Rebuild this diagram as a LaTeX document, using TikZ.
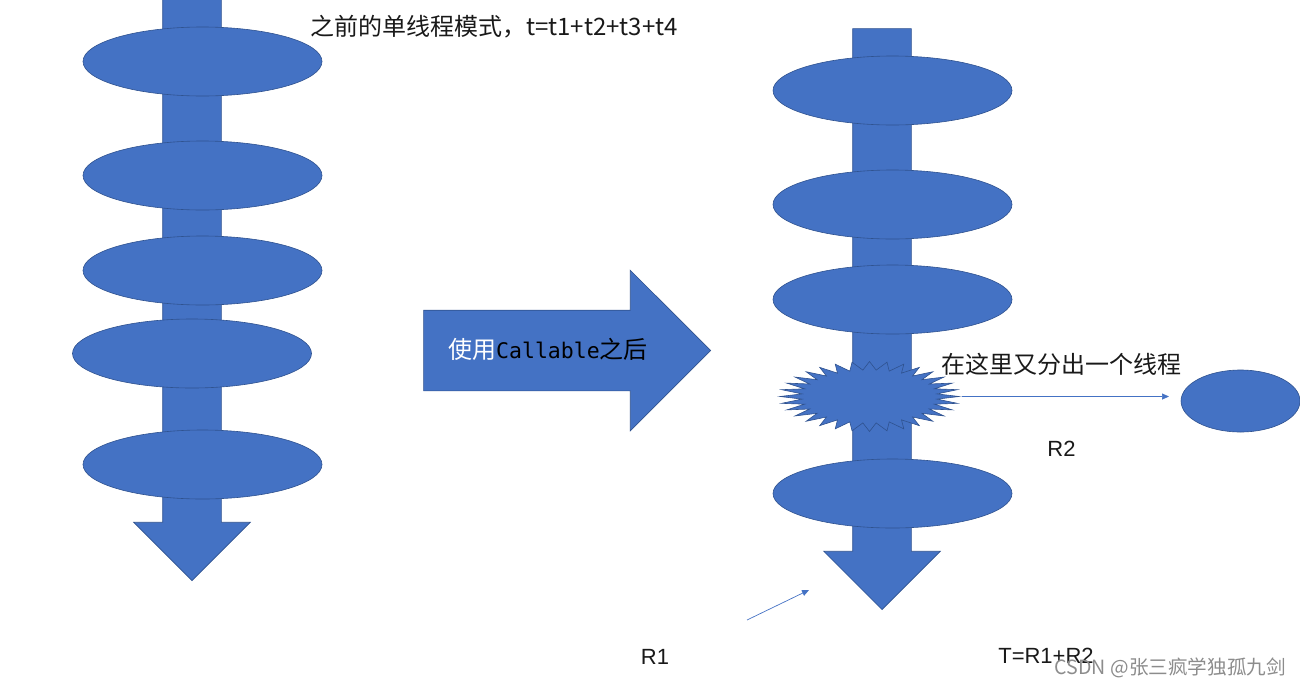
\documentclass[tikz,border=0pt]{standalone}
\usepackage{fontspec}
\setmainfont{Liberation Sans}
\newfontfamily\cjk{Noto Sans CJK SC}
\newfontfamily\codefont{DejaVu Sans Mono}
\usetikzlibrary{shapes.geometric,shapes.arrows,arrows.meta}
\definecolor{shapeblue}{HTML}{4472C4}
\definecolor{shapeedge}{HTML}{2F528F}
\tikzset{
    task/.style = {draw=shapeedge, fill=shapeblue, ellipse, line width=.6pt, inner sep=0pt,
        minimum width=239pt, minimum height=69pt},
    flow/.style = {draw=shapeedge, fill=shapeblue, single arrow, line width=.6pt, inner sep=29pt,
        single arrow tip angle=90, single arrow head extend=29pt, shape border rotate=270,
        minimum height=581pt, minimum width=116pt, anchor=tip},
    burst/.style = {draw=shapeedge, fill=shapeblue, star, star points=32, star point ratio=1.32,
        line width=.6pt, inner sep=0pt, minimum size=70pt, xscale=2.56},
    link/.style = {draw=shapeblue, line width=.7pt, -{Triangle[length=7pt,width=6pt]}},
    plaintext/.style = {inner sep=0pt, font=\fontsize{22}{26}\selectfont, text=black!90},
    cjktext/.style = {inner sep=0pt, font=\fontsize{24}{28}\selectfont\cjk, text=black!90}
}
\begin{document}
\begin{tikzpicture}[x=1pt,y=-1pt]
    \useasboundingbox (0,0) rectangle (1300,686);
    % left column
    \node [flow] (flowa) at (192,581) {};
    \node [task] (a1) at (202.5,61.5) {};
    \node [task] (a2) at (202.5,175.5) {};
    \node [task] (a3) at (202.5,270.5) {};
    \node [task] (a4) at (192,353.5) {};
    \node [task] (a5) at (202.5,464.5) {};
    \node [cjktext, anchor=west] (title) at (310,27) {之前的单线程模式，t=t1+t2+t3+t4};
    % middle arrow
    \node [draw=shapeedge, fill=shapeblue, single arrow, line width=.6pt, inner sep=40pt,
        single arrow tip angle=90, single arrow head extend=40pt, anchor=tip,
        minimum height=287pt, minimum width=160pt] (step) at (711,350.5) {};
    \node [cjktext, anchor=west] (steptext) at (448,349)
        {\textcolor{white}{使用}{\codefont\fontsize{21.5}{26}\selectfont\textcolor{black}{Callable}}\textcolor{black}{之后}};
    % right column
    \node [flow] (flowb) at (882,610) {};
    \node [task] (b1) at (892.5,90.5) {};
    \node [task] (b2) at (892.5,204.5) {};
    \node [task] (b3) at (892.5,299.5) {};
    \node [burst] (spawn) at (869.5,396.5) {};
    \node [task] (b5) at (892.5,493.5) {};
    \node [task, minimum width=119pt, minimum height=62pt] (extra) at (1240.5,401) {};
    \node [cjktext, anchor=west] (spawntext) at (941,364) {在这里又分出一个线程};
    % connectors
    \coordinate (extraend) at (1169,396.5);
    \coordinate (r1tail) at (747,620);
    \coordinate (r1head) at (809,590);
    \draw [link] (spawn.east) -- (extraend);
    \draw [link] (r1tail) -- (r1head);
    \node [plaintext] (r1) at (655,657) {R1};
    \node [plaintext] (r2) at (1061.5,449) {R2};
    \node [plaintext] (total) at (1046,656) {T=R1+R2};
    \node [inner sep=0pt, anchor=east, text=black!45, font=\fontsize{19.6}{22}\selectfont\cjk] (credit) at (1286,668) {CSDN @张三疯学独孤九剑};
\end{tikzpicture}
\end{document}
